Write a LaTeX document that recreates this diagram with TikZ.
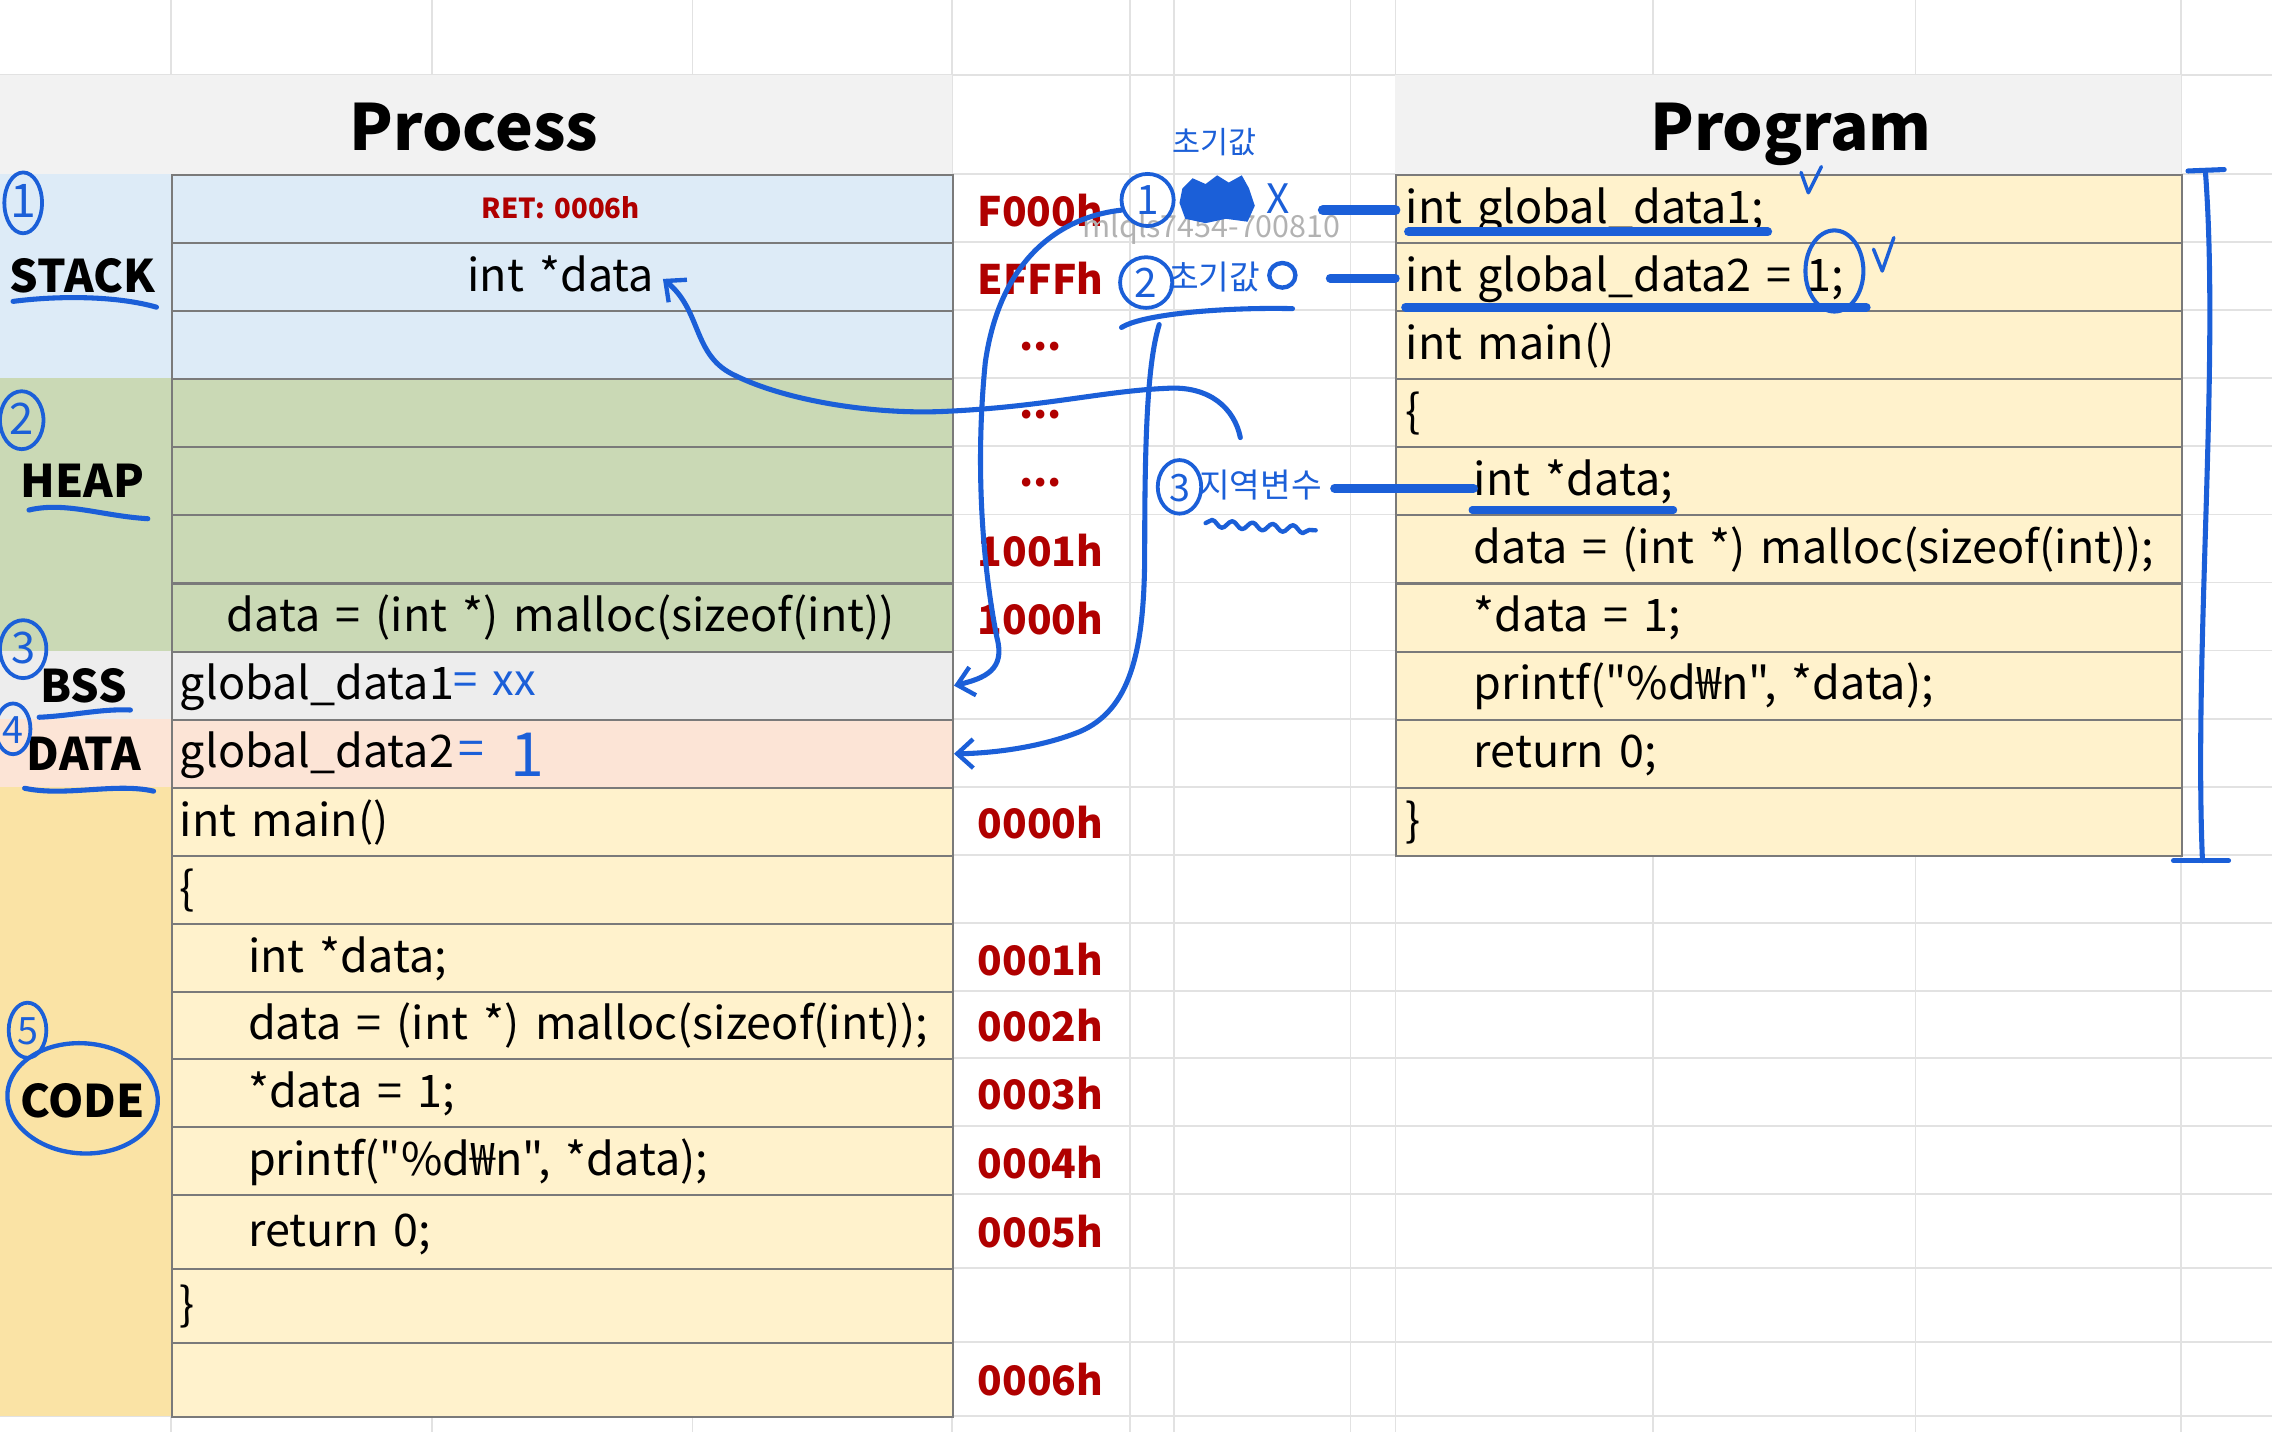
\documentclass[tikz,border=0pt]{standalone}
\usepackage{fontspec}
\setmainfont[WordSpace=1.5,Ligatures=TeXOff]{Noto Sans CJK KR}
\usetikzlibrary{arrows.meta,shapes.geometric,decorations.pathmorphing,calc}
\definecolor{stackc}{HTML}{DDEBF7}
\definecolor{heapc}{HTML}{CAD9B5}
\definecolor{bssc}{HTML}{EDEDED}
\definecolor{datac}{HTML}{FCE4D6}
\definecolor{codec}{HTML}{FFF2CC}
\definecolor{codelab}{HTML}{FAE3A5}
\definecolor{headc}{HTML}{F2F2F2}
\definecolor{addrc}{HTML}{B00000}
\definecolor{inkc}{HTML}{1B5FD8}
\definecolor{gridc}{HTML}{E2E2E2}
\definecolor{cellline}{HTML}{7A7A7A}
\newcommand\pcell[4]{\node[pcellbox, fill=#4, minimum height=#3pt] (#1) at (118,#2) {};}
\newcommand\gcell[3]{\node[gcellbox, fill=codec, minimum height=#3pt] (#1) at (963,#2) {};}
\begin{document}
\begin{tikzpicture}[x=1pt,y=-1pt,
  pcellbox/.style={draw=cellline, line width=1.4pt, minimum width=539pt, inner sep=0pt, anchor=north west},
  gcellbox/.style={draw=cellline, line width=1.4pt, minimum width=542pt, inner sep=0pt, anchor=north west},
  codetxt/.style={font=\fontsize{31}{36}\selectfont, inner sep=0pt, text height=23pt, text depth=2pt, anchor=west},
  addr/.style={font=\fontsize{28}{32}\selectfont\bfseries, text=addrc, inner sep=0pt},
  lab/.style={font=\fontsize{31}{36}\selectfont\bfseries, inner sep=0pt},
  headtxt/.style={font=\fontsize{44}{50}\selectfont\bfseries, inner sep=0pt, text height=32pt, text depth=0pt},
  inkline/.style={draw=inkc, line width=3.5pt, line cap=round, line join=round},
  inkthick/.style={draw=inkc, line width=7pt, line cap=round},
  inktxt/.style={text=inkc, inner sep=0pt},
  inkcirc/.style={draw=inkc, line width=2.6pt, ellipse, inner sep=0pt, text=inkc, text height=20pt, text depth=0pt},
  barb/.style={-{Straight Barb[length=11pt,width=20pt,line width=3pt]}}
]
\useasboundingbox (0,0) rectangle (1568,988);
\fill[white] (0,0) rectangle (1568,988);
% spreadsheet grid
\foreach \gx in {118,298,478,657,780,810,932,963,1141,1322,1505}
  \draw[gridc, line width=1.2pt] (\gx,0) -- (\gx,988);
\foreach \gy in {52,120,167,214,261,308,355,402,449,496,543,590,637,684,730,777,824,875,926,977}
  \draw[gridc, line width=1.2pt] (0,\gy) -- (1568,\gy);
% headers
\fill[headc] (0,52) rectangle (657,120);
\fill[headc] (963,52) rectangle (1505,120);
\node[headtxt] (hproc) at (327,88) {Process};
\node[headtxt] (hprog) at (1236,88) {Program};
% label column backgrounds
\fill[stackc] (0,120) rectangle (118,261);
\fill[heapc] (0,261) rectangle (118,449);
\fill[bssc] (0,449) rectangle (118,496);
\fill[datac] (0,496) rectangle (118,543);
\fill[codelab] (0,543) rectangle (118,977);
% process cells
\pcell{p1}{120}{47}{stackc}
\pcell{p2}{167}{47}{stackc}
\pcell{p3}{214}{47}{stackc}
\pcell{p4}{261}{47}{heapc}
\pcell{p5}{308}{47}{heapc}
\pcell{p6}{355}{47}{heapc}
\pcell{p7}{402}{47}{heapc}
\pcell{p8}{449}{47}{bssc}
\pcell{p9}{496}{47}{datac}
\pcell{p10}{543}{47}{codec}
\pcell{p11}{590}{47}{codec}
\pcell{p12}{637}{47}{codec}
\pcell{p13}{684}{46}{codec}
\pcell{p14}{730}{47}{codec}
\pcell{p15}{777}{47}{codec}
\pcell{p16}{824}{51}{codec}
\pcell{p17}{875}{51}{codec}
\pcell{p18}{926}{51}{codec}
% process texts
\node[addr, font=\fontsize{19}{22}\selectfont\bfseries] (ret) at (387,143.5) {RET: 0006h};
\node[codetxt, anchor=center] (intdata) at (387,190.5) {int *data};
\node[codetxt, anchor=center] (heaptxt) at (387,425.5) {data = (int *) malloc(sizeof(int))};
\node[codetxt] (bsstxt) at (124,472.5) {global\_data1};
\node[codetxt] (datatxt) at (124,519.5) {global\_data2};
\node[codetxt] at (124,566.5) {int main()};
\node[codetxt] at (124,613.5) {\{};
\node[codetxt] at (171,660.5) {int *data;};
\node[codetxt] at (171,707) {data = (int *) malloc(sizeof(int));};
\node[codetxt] at (171,753.5) {*data = 1;};
\node[codetxt] at (171,800.5) {printf("\%d₩n", *data);};
\node[codetxt] at (171,849.5) {return 0;};
\node[codetxt] at (124,900.5) {\}};
% addresses
\node[addr] (a1) at (718,145) {F000h};
\node[addr] (a2) at (718,192) {EFFFh};
\node[addr] at (718,239) {...};
\node[addr] at (718,286) {...};
\node[addr] at (718,333) {...};
\node[addr] at (718,380) {1001h};
\node[addr] at (718,427) {1000h};
\node[addr] at (718,568) {0000h};
\node[addr] at (718,662) {0001h};
\node[addr] at (718,708) {0002h};
\node[addr] at (718,755) {0003h};
\node[addr] at (718,802) {0004h};
\node[addr] at (718,850) {0005h};
\node[addr] at (718,952) {0006h};
% segment labels
\node[lab] (lstack) at (57,190) {STACK};
\node[lab] (lheap) at (57,332) {HEAP};
\node[lab] (lbss) at (58,473) {BSS};
\node[lab] (ldata) at (58,520) {DATA};
\node[lab] (lcode) at (57,760) {CODE};
% program table
\gcell{g1}{120}{47}
\gcell{g2}{167}{47}
\gcell{g3}{214}{47}
\gcell{g4}{261}{47}
\gcell{g5}{308}{47}
\gcell{g6}{355}{47}
\gcell{g7}{402}{47}
\gcell{g8}{449}{47}
\gcell{g9}{496}{47}
\gcell{g10}{543}{47}
\node[codetxt] (gt1) at (970,143.5) {int global\_data1;};
\node[codetxt] (gt2) at (970,190.5) {int global\_data2 = 1;};
\node[codetxt] at (970,237.5) {int main()};
\node[codetxt] at (970,284.5) {\{};
\node[codetxt] (gt5) at (1017,331.5) {int *data;};
\node[codetxt] at (1017,378.5) {data = (int *) malloc(sizeof(int));};
\node[codetxt] at (1017,425.5) {*data = 1;};
\node[codetxt] at (1017,472.5) {printf("\%d₩n", *data);};
\node[codetxt] at (1017,519.5) {return 0;};
\node[codetxt] at (970,566.5) {\}};
% watermark
\node[text=black!30, font=\fontsize{21}{24}\selectfont, inner sep=0pt] (wm) at (836,158) {mlqls7454-700810};
% ===== handwriting =====
% circled numbers at left
\node[inkcirc, minimum width=26pt, minimum height=42pt, font=\fontsize{32}{34}\selectfont] (c1) at (16,140) {1};
\node[inkcirc, minimum width=30pt, minimum height=40pt, font=\fontsize{30}{32}\selectfont] (c2) at (15,290) {2};
\node[inkcirc, minimum width=32pt, minimum height=40pt, font=\fontsize{30}{32}\selectfont] (c3) at (16,448) {3};
\node[inkcirc, minimum width=24pt, minimum height=35pt, font=\fontsize{26}{28}\selectfont] (c4) at (9,503) {4};
\node[inkcirc, minimum width=26pt, minimum height=38pt, font=\fontsize{26}{28}\selectfont] (c5) at (19,711) {5};
\node[inkcirc, line width=3pt, minimum width=104pt, minimum height=76pt, rotate=-4] (ccode) at (57,758) {};
% label underlines
\draw[inkline] (9,208) .. controls (40,204) and (80,204) .. (108,212);
\draw[inkline] (20,352) .. controls (45,346) and (70,356) .. (102,358);
\draw[inkline] (27,495) .. controls (50,494) and (70,489) .. (90,490);
\draw[inkline] (17,544) .. controls (45,550) and (80,540) .. (106,546);
% values written in cells
\node[inktxt, font=\fontsize{30}{32}\selectfont, anchor=west] (bssval) at (313,472) {= xx};
\node[inktxt, font=\fontsize{32}{34}\selectfont, anchor=west] (dataeq) at (316,520) {=};
\node[inktxt, font=\fontsize{42}{44}\selectfont, anchor=west] (dataone) at (352,521) {1};
% right side notes
\node[inktxt, font=\fontsize{21}{24}\selectfont] (n0) at (838,98) {초기값};
\node[inkcirc, minimum width=36pt, minimum height=36pt, font=\fontsize{28}{30}\selectfont] (n1) at (792,138) {1};
\fill[inkc] (816,130) -- (823,123) -- (832,127) -- (840,121) -- (848,126) -- (857,121) -- (862,130) -- (866,142) -- (861,153) -- (846,151) -- (832,154) -- (818,151) -- (814,140) -- cycle;
\node[inktxt, font=\fontsize{28}{30}\selectfont] (nx) at (882,137) {X};
\node[inkcirc, minimum width=36pt, minimum height=35pt, font=\fontsize{28}{30}\selectfont] (n2) at (791,195) {2};
\node[inktxt, font=\fontsize{23}{25}\selectfont] (n2t) at (838,191) {초기값};
\draw[inkline, line width=3pt] (885,190) circle[x radius=9, y radius=8.5];
\draw[inkline] (774,226) .. controls (790,216) and (850,212) .. (892,213);
\node[inkcirc, minimum width=30pt, minimum height=37pt, font=\fontsize{26}{28}\selectfont] (n3) at (814,336) {3};
\node[inktxt, font=\fontsize{23}{26}\selectfont] (n3t) at (870,335) {지역변수};
\draw[inkline, line width=3pt, decorate, decoration={snake, amplitude=2.5pt, segment length=14pt}] (832,361) -- (908,366);
% thick connectors to program
\draw[inkthick] (913,145) -- (g1.west |- 0,145);
\draw[inkthick, line width=6pt] (918,192) -- (g2.west |- 0,192);
\draw[inkthick, line width=6pt] (921,337) -- (gt5.west |- 0,337);
% program underlines and marks
\draw[inkthick, line width=6pt] (972,160) -- (1220,160);
\draw[inkthick, line width=6pt] (970,212) -- (1288,212);
\draw[inkthick, line width=5pt] (1016,352) -- (1155,352);
\draw[inkline, line width=2.8pt] (1266,187) ellipse[x radius=20, y radius=28];
\draw[inkline, line width=2.4pt] (1243,119) -- (1248,133) -- (1257,115);
\draw[inkline, line width=2.4pt] (1293,172) -- (1299,187) -- (1307,164);
% bracket
\draw[inkline] (1510,118) -- (1535,117);
\draw[inkline] (1522,118) .. controls (1532,250) and (1514,450) .. (1520,594);
\draw[inkline] (1500,594) -- (1538,594);
% arrows
\coordinate (hook) at (856,302);
\coordinate (from1) at (774,145);
\coordinate (from2) at (800,224);
\draw[inkline, barb] (hook) .. controls (852,282) and (835,266) .. (805,268)
   .. controls (760,270) and (720,281) .. (650,284)
   .. controls (600,286) and (540,276) .. (505,258)
   .. controls (478,244) and (484,214) .. ($(intdata.east)+(6,2)$);
\draw[inkline, barb] (from1) .. controls (730,150) and (690,180) .. (680,250)
   .. controls (672,330) and (680,400) .. (688,440)
   .. controls (694,462) and (680,468) .. (p8.east);
\draw[inkline, barb] (from2) .. controls (792,250) and (790,300) .. (790,380)
   .. controls (790,450) and (780,490) .. (745,505)
   .. controls (715,517) and (680,520) .. (p9.east);
\end{tikzpicture}
\end{document}
